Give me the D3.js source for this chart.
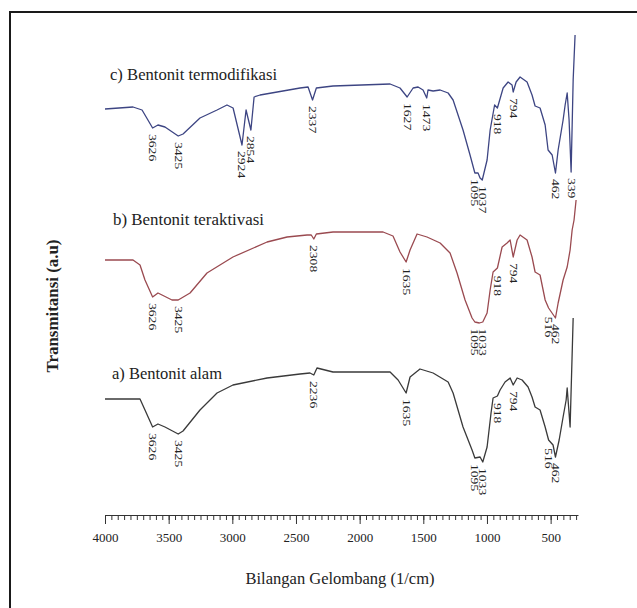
<!DOCTYPE html>
<html>
<head>
<meta charset="utf-8">
<script src="https://cdn.jsdelivr.net/npm/d3@7"></script>
<style>
  body { margin: 0; background: #fff; }
  svg text { font-family: "Liberation Serif", "Times New Roman", serif; fill: #222; }
</style>
</head>
<body>
<div id="drawing"></div>
<script>
// FTIR spectra of bentonite, stacked (transmittance in arbitrary units)
// each point: [wavenumber (1/cm), transmittance (a.u.)]
const seriesNames = ["c) Bentonit termodifikasi", "b) Bentonit teraktivasi", "a) Bentonit alam"];
const seriesColors = ["#3d4583", "#9a4a50", "#3a3a3a"];

const termodifikasi = [
  [4000, 82.2], [3780, 82.6], [3709, 82.0], [3626, 78.4], [3584, 79.0], [3529, 78.6],
  [3425, 76.8], [3387, 77.2], [3254, 80.4], [3120, 82.0], [3042, 83.0], [2994, 82.4],
  [2924, 75.0], [2892, 82.0], [2877, 80.4], [2854, 78.0], [2829, 84.6], [2782, 85.0],
  [2468, 86.4], [2405, 86.6], [2370, 84.0], [2340, 86.4], [2209, 86.8], [1761, 87.2],
  [1683, 86.4], [1627, 84.6], [1580, 86.4], [1541, 86.6], [1502, 86.0], [1473, 84.4],
  [1463, 86.0], [1423, 85.8], [1368, 86.0], [1305, 85.4], [1266, 84.0], [1188, 78.0],
  [1133, 73.0], [1095, 69.4], [1070, 69.4], [1054, 68.4], [1037, 68.0], [999, 72.0],
  [975, 78.0], [940, 83.0], [918, 82.4], [873, 86.4], [834, 87.6], [803, 87.0],
  [794, 85.6], [771, 87.6], [740, 88.6], [685, 87.6], [646, 85.0], [622, 82.8],
  [583, 82.4], [543, 79.0], [520, 74.0], [488, 73.0], [462, 69.4], [441, 74.0],
  [402, 80.0], [386, 83.0], [370, 85.4], [355, 80.0], [339, 69.6], [323, 88.0], [308, 97.0]
];

const teraktivasi = [
  [4000, 52.0], [3780, 52.0], [3725, 51.0], [3686, 48.0], [3626, 44.6], [3584, 45.4],
  [3552, 45.0], [3474, 44.0], [3425, 44.0], [3332, 45.4], [3199, 49.4], [2995, 52.6],
  [2727, 55.6], [2570, 56.6], [2413, 57.0], [2380, 57.0], [2360, 56.2], [2340, 57.2],
  [2209, 57.6], [1816, 57.6], [1738, 56.8], [1683, 53.6], [1635, 51.6], [1604, 54.0],
  [1549, 57.2], [1471, 56.6], [1368, 55.4], [1290, 53.4], [1235, 49.4], [1172, 44.0],
  [1117, 40.4], [1095, 39.6], [1060, 39.4], [1033, 39.6], [999, 41.4], [975, 46.0],
  [952, 49.6], [918, 50.4], [881, 54.6], [842, 55.4], [818, 56.0], [794, 52.6],
  [763, 56.0], [740, 57.0], [685, 56.0], [646, 52.6], [622, 49.6], [583, 49.0],
  [543, 44.0], [516, 42.4], [462, 40.4], [441, 43.4], [402, 48.0], [370, 50.6],
  [347, 54.0], [331, 58.0], [316, 60.0], [300, 64.0]
];

const alam = [
  [4000, 24.2], [3725, 24.2], [3686, 22.0], [3626, 18.6], [3584, 19.2], [3529, 18.6],
  [3425, 17.2], [3387, 17.8], [3254, 22.0], [3120, 25.4], [2995, 27.0], [2727, 28.4],
  [2468, 29.2], [2390, 29.4], [2360, 29.0], [2335, 30.4], [2209, 29.6], [1761, 29.6],
  [1698, 28.0], [1635, 25.4], [1604, 28.6], [1526, 30.2], [1423, 29.4], [1305, 27.6],
  [1266, 25.4], [1188, 18.6], [1117, 14.0], [1095, 12.4], [1054, 12.6], [1033, 11.6],
  [999, 14.6], [968, 21.4], [952, 24.4], [918, 24.8], [897, 26.0], [858, 27.6],
  [818, 28.4], [794, 27.0], [763, 28.4], [724, 28.0], [677, 26.6], [646, 24.6],
  [622, 22.6], [583, 22.0], [543, 18.6], [516, 16.0], [481, 15.0], [462, 12.6],
  [433, 16.0], [402, 20.6], [378, 24.0], [370, 26.4], [347, 18.6], [323, 40.4]
];

// peak labels: [wavenumber where the label sits, text]
const termodifikasiPeaks = [
  [3626, "3626"], [3425, "3425"], [2924, "2924"], [2854, "2854"], [2370, "2337"],
  [1627, "1627"], [1473, "1473"], [1095, "1095"], [1037, "1037"], [918, "918"],
  [794, "794"], [462, "462"], [339, "339"]
];
const teraktivasiPeaks = [
  [3626, "3626"], [3425, "3425"], [2360, "2308"], [1635, "1635"], [1095, "1095"],
  [1033, "1033"], [918, "918"], [794, "794"], [516, "516"], [462, "462"]
];
const alamPeaks = [
  [3626, "3626"], [3425, "3425"], [2360, "2236"], [1635, "1635"], [1095, "1095"],
  [1033, "1033"], [918, "918"], [794, "794"], [516, "516"], [462, "462"]
];

const majorTicks = [4000, 3500, 3000, 2500, 2000, 1500, 1000, 500];
const minorTicks = d3.range(4000, 299, -50);

const xTitle = "Bilangan Gelombang (1/cm)";
const yTitle = "Transmitansi (a.u)";

const width = 637, height = 608;
const svg = d3.select("#drawing").append("svg")
  .attr("width", width)
  .attr("height", height);

svg.append("rect").attr("width", width).attr("height", height).attr("fill", "#fff");

// outer frame (right and bottom edges fall outside the picture)
svg.append("rect")
  .attr("x", 10).attr("y", 12)
  .attr("width", 700).attr("height", 700)
  .attr("fill", "none")
  .attr("stroke", "#1a1a1a")
  .attr("stroke-width", 2);

const x = d3.scaleLinear().domain([4000, 285]).range([105, 578]);
const y = d3.scaleLinear().domain([0, 100]).range([520, 20]);
const axisY = 515;

// x axis: minor ticks every 50, major every 500
svg.append("g")
  .attr("transform", "translate(0," + axisY + ")")
  .call(d3.axisBottom(x).tickValues(minorTicks).tickSize(5).tickSizeOuter(0).tickFormat(""))
  .call(g => g.selectAll("line").attr("stroke", "#333"))
  .call(g => g.select(".domain").attr("stroke", "#333"));

svg.append("g")
  .attr("transform", "translate(0," + axisY + ")")
  .call(d3.axisBottom(x).tickValues(majorTicks).tickSize(9).tickSizeOuter(0).tickPadding(9)
    .tickFormat(d3.format("d")))
  .call(g => g.select(".domain").remove())
  .call(g => g.selectAll("line").attr("stroke", "#333"))
  .call(g => g.selectAll("text")
    .style("font-family", "'Liberation Serif', serif")
    .style("font-size", "13px")
    .attr("fill", "#222"));

svg.append("text")
  .attr("x", 340).attr("y", 584)
  .attr("text-anchor", "middle")
  .attr("textLength", 189)
  .attr("lengthAdjust", "spacingAndGlyphs")
  .style("font-size", "17px")
  .text(xTitle);

svg.append("text")
  .attr("transform", "translate(58,306) rotate(-90)")
  .attr("text-anchor", "middle")
  .attr("textLength", 133)
  .attr("lengthAdjust", "spacingAndGlyphs")
  .style("font-size", "16px")
  .style("font-weight", "bold")
  .text(yTitle);

const line = d3.line()
  .x(function (d) { return x(d[0]); })
  .y(function (d) { return y(d[1]); });

const allSeries = [termodifikasi, teraktivasi, alam];
const allPeaks = [termodifikasiPeaks, teraktivasiPeaks, alamPeaks];
// where each series name sits (pixels)
const nameLayout = [
  { x: 110, y: 80, len: 167 },
  { x: 113, y: 225, len: 151 },
  { x: 112, y: 379, len: 110 }
];

function valueAt(data, wn) {
  // lowest transmittance near wn (linear interpolation between points)
  let best = Infinity;
  for (let w = wn - 15; w <= wn + 15; w += 3) {
    for (let i = 0; i < data.length - 1; i++) {
      const a = data[i], b = data[i + 1];
      if (w <= a[0] && w >= b[0]) {
        const t = (a[0] - w) / (a[0] - b[0]);
        best = Math.min(best, a[1] + t * (b[1] - a[1]));
        break;
      }
    }
  }
  return best;
}

allSeries.forEach(function (data, i) {
  svg.append("path")
    .datum(data)
    .attr("d", line)
    .attr("fill", "none")
    .attr("stroke", seriesColors[i])
    .attr("stroke-width", 1.3)
    .attr("stroke-linejoin", "round");

  svg.append("text")
    .attr("x", nameLayout[i].x)
    .attr("y", nameLayout[i].y)
    .attr("textLength", nameLayout[i].len)
    .attr("lengthAdjust", "spacingAndGlyphs")
    .style("font-size", "17px")
    .text(seriesNames[i]);

  svg.selectAll(null)
    .data(allPeaks[i])
    .enter()
    .append("text")
    .attr("transform", function (d) {
      return "translate(" + x(d[0]) + "," + (y(valueAt(data, d[0])) + 6) + ") rotate(90)";
    })
    .attr("dominant-baseline", "central")
    .attr("textLength", function (d) { return d[1].length * 6.8; })
    .attr("lengthAdjust", "spacingAndGlyphs")
    .style("font-size", "10px")
    .text(function (d) { return d[1]; });
});
</script>
</body>
</html>
